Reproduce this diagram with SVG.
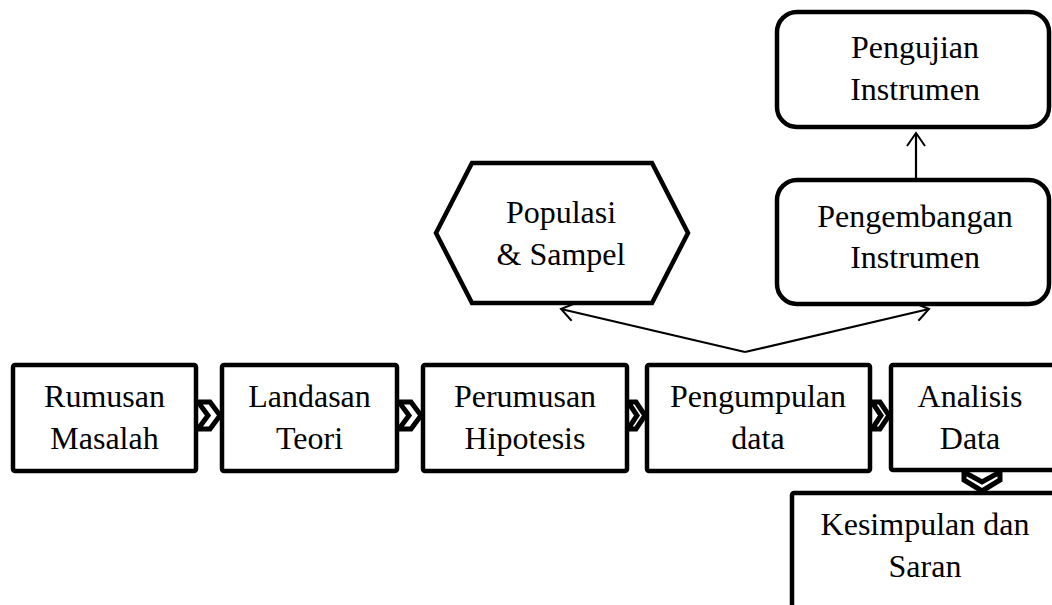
<svg xmlns="http://www.w3.org/2000/svg" width="1052" height="605" viewBox="0 0 1052 605">
<defs>
<style>
.box{fill:#fff;stroke:#000;stroke-width:4.5}
.chev{fill:#fff;stroke:#000;stroke-width:5;stroke-linejoin:miter}
.t{font-family:"Liberation Serif","Times New Roman",serif;font-size:32px;fill:#000;text-anchor:middle}
.con{fill:none;stroke:#000;stroke-width:2.2}
</style>
<marker id="arr" viewBox="0 0 20 20" refX="18" refY="10" markerWidth="20" markerHeight="20" markerUnits="userSpaceOnUse" orient="auto">
<path d="M5,1 L18,10 L5,19" fill="none" stroke="#000" stroke-width="2"/>
</marker>
</defs>
<rect width="1052" height="605" fill="#fff"/>

<g id="connectors">
<path class="con" d="M745,352 L561,309" marker-end="url(#arr)"/>
<path class="con" d="M745,352 L929,309" marker-end="url(#arr)"/>
<path class="con" d="M916,178 L916,133" marker-end="url(#arr)"/>
<polygon class="chev" points="198,402 210,402 220,415.5 210,429 198,429 208,415.5"/>
<polygon class="chev" points="399,402 411,402 421,415.5 411,429 399,429 409,415.5"/>
<polygon class="chev" points="628,402 636,402 645,415.5 636,429 628,429 637,415.5"/>
<polygon class="chev" points="872,402 880,402 889,415.5 880,429 872,429 881,415.5"/>
<polygon class="chev" points="964,472 964,480 982,491 1000,480 1000,472 982,482"/>
</g>

<g id="rumusan">
<rect class="box" x="13" y="365" width="183" height="106" rx="2"/>
<text class="t" x="104.5" y="407">Rumusan</text>
<text class="t" x="104.5" y="449">Masalah</text>
</g>
<g id="landasan">
<rect class="box" x="222" y="365" width="175" height="106" rx="2"/>
<text class="t" x="309.5" y="407">Landasan</text>
<text class="t" x="309.5" y="449">Teori</text>
</g>
<g id="perumusan">
<rect class="box" x="423" y="365" width="204" height="106" rx="2"/>
<text class="t" x="525" y="407">Perumusan</text>
<text class="t" x="525" y="449">Hipotesis</text>
</g>
<g id="pengumpulan">
<rect class="box" x="647" y="365" width="223" height="106" rx="2"/>
<text class="t" x="758" y="407">Pengumpulan</text>
<text class="t" x="758" y="449">data</text>
</g>
<g id="analisis">
<rect class="box" x="891" y="365" width="170" height="105" rx="2"/>
<text class="t" x="970" y="407">Analisis</text>
<text class="t" x="970" y="449">Data</text>
</g>
<g id="kesimpulan">
<rect class="box" x="792" y="493" width="270" height="120" rx="2"/>
<text class="t" x="925" y="535">Kesimpulan dan</text>
<text class="t" x="925" y="577">Saran</text>
</g>
<g id="populasi">
<polygon class="box" points="472,163 652,163 688,233 652,303 472,303 436,233"/>
<text class="t" x="561" y="223">Populasi</text>
<text class="t" x="561" y="265">&amp; Sampel</text>
</g>
<g id="pengembangan">
<rect class="box" x="777" y="180" width="272" height="124" rx="20"/>
<text class="t" x="915" y="227">Pengembangan</text>
<text class="t" x="915" y="268">Instrumen</text>
</g>
<g id="pengujian">
<rect class="box" x="777" y="12" width="272" height="115" rx="20"/>
<text class="t" x="915" y="58">Pengujian</text>
<text class="t" x="915" y="100">Instrumen</text>
</g>
</svg>
